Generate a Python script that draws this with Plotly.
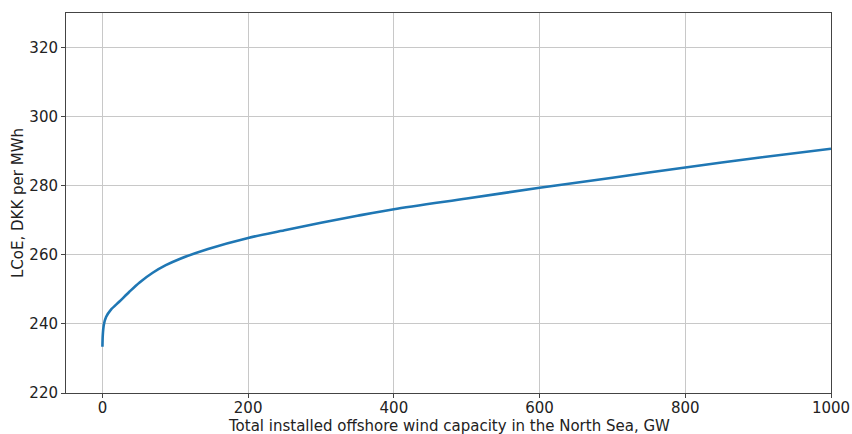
import plotly.graph_objects as go

capacity_gw = [0, 0.5, 2, 5, 12, 23, 37, 51, 69, 87, 106, 145, 200, 250, 300, 350, 400, 500, 600, 700, 800, 900, 1000]
lcoe_dkk = [233.4, 236.8, 239.8, 242.0, 244.2, 246.4, 249.3, 252.0, 254.8, 257.0, 258.8, 261.7, 264.9, 267.1, 269.3, 271.3, 273.2, 276.3, 279.4, 282.3, 285.3, 288.1, 290.7]

x_ticks = [0, 200, 400, 600, 800, 1000]
y_ticks = [220, 240, 260, 280, 300, 320]

x_title = "Total installed offshore wind capacity in the North Sea, GW"
y_title = "LCoE, DKK per MWh"

fig = go.Figure()
fig.add_trace(go.Scatter(
    x=capacity_gw, y=lcoe_dkk, mode="lines",
    line=dict(color="#1f77b4", width=2.6, shape="spline", smoothing=0.8),
    showlegend=False,
))

axis_common = dict(
    showgrid=True, gridcolor="#c8c8c8", gridwidth=1,
    showline=True, linecolor="#444444", linewidth=1, mirror=True,
    ticks="outside", tickcolor="#444444",
    zeroline=False, automargin=False,
    tickfont=dict(family="DejaVu Sans", size=15, color="#222222"),
)

fig.update_layout(
    width=852, height=434,
    margin=dict(l=66, r=21, t=13, b=41),
    paper_bgcolor="white", plot_bgcolor="white",
    font=dict(family="DejaVu Sans", size=15, color="#222222"),
    xaxis=dict(range=[-50, 1000], tickvals=x_ticks, ticklen=4,
               ticklabelstandoff=-3, **axis_common),
    yaxis=dict(range=[220, 330], tickvals=y_ticks, ticklen=4, **axis_common),
    annotations=[
        dict(text=x_title, xref="paper", yref="paper", x=0.5, y=0,
             xanchor="center", yanchor="middle", yshift=-33, showarrow=False,
             font=dict(size=15, color="#222222")),
        dict(text=y_title, xref="paper", yref="paper", x=0, y=0.5,
             xanchor="center", yanchor="middle", xshift=-48, textangle=-90,
             showarrow=False, font=dict(size=15, color="#222222")),
    ],
)

fig.write_html("out.html")
